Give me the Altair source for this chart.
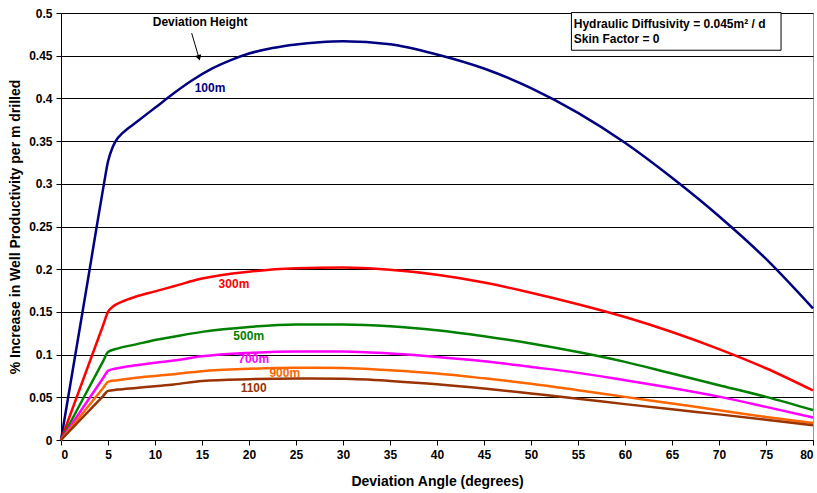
import altair as alt
import pandas as pd

FONT = "Liberation Sans"

# ---- data ----
angle_100 = [0, 2.9, 3.8, 4.6, 5, 5.5, 6, 6.5, 8, 10, 12, 14, 16, 18, 20, 22.5, 25, 27.5, 30, 35, 40, 45, 50, 55, 60, 65, 70, 75, 80]
pct_100 = [0, 0.19, 0.25, 0.302, 0.326, 0.343, 0.353, 0.359, 0.372, 0.389, 0.406, 0.4215, 0.4345, 0.4445, 0.4525, 0.459, 0.4632, 0.4658, 0.467, 0.4635, 0.4515, 0.435, 0.412, 0.383, 0.348, 0.307, 0.262, 0.212, 0.154]

angle_300 = [0, 4.5, 5, 5.5, 6.5, 8, 10, 12, 15, 20, 25, 30, 35, 40, 45, 50, 55, 60, 65, 70, 75, 80]
pct_300 = [0, 0.135, 0.15, 0.156, 0.162, 0.168, 0.174, 0.18, 0.189, 0.197, 0.201, 0.202, 0.1993, 0.1935, 0.1845, 0.1725, 0.159, 0.144, 0.1265, 0.1065, 0.084, 0.058]

angle_std = [0, 4.5, 5, 6, 8, 10, 12, 15, 20, 25, 30, 35, 40, 45, 50, 55, 60, 65, 70, 75, 80]
pct_500 = [0, 0.0927, 0.103, 0.107, 0.112, 0.117, 0.121, 0.1266, 0.1324, 0.1352, 0.1352, 0.1333, 0.1286, 0.1215, 0.113, 0.103, 0.0915, 0.0779, 0.0642, 0.0505, 0.035]
pct_700 = [0, 0.0729, 0.081, 0.084, 0.0875, 0.0905, 0.093, 0.098, 0.102, 0.1036, 0.1036, 0.1013, 0.0973, 0.0923, 0.0856, 0.0786, 0.070, 0.061, 0.0508, 0.0388, 0.0263]
pct_900 = [0, 0.0612, 0.068, 0.070, 0.073, 0.075, 0.077, 0.0806, 0.0833, 0.0845, 0.0843, 0.0817, 0.0779, 0.0722, 0.0658, 0.0583, 0.0505, 0.0427, 0.0349, 0.027, 0.020]
pct_1100 = [0, 0.0518, 0.0575, 0.059, 0.061, 0.063, 0.065, 0.0692, 0.0712, 0.072, 0.0716, 0.0692, 0.0653, 0.0603, 0.0544, 0.0484, 0.042, 0.0359, 0.0300, 0.0238, 0.0173]

series_names = ["100m", "300m", "500m", "700m", "900m", "1100"]
series_colors = ["#000080", "#FF0000", "#008000", "#FF00FF", "#FF6600", "#993300"]

label_angle = [15.85, 18.4, 19.97, 20.5, 23.8, 20.5]
label_pct = [0.4123, 0.1823, 0.1215, 0.0946, 0.0782, 0.0611]

y_ticks = [0, 0.05, 0.1, 0.15, 0.2, 0.25, 0.3, 0.35, 0.4, 0.45, 0.5]
x_ticks = list(range(0, 85, 5))

# ---- build tables ----
rows = []
for name, xs, ys in [
    ("100m", angle_100, pct_100),
    ("300m", angle_300, pct_300),
    ("500m", angle_std, pct_500),
    ("700m", angle_std, pct_700),
    ("900m", angle_std, pct_900),
    ("1100", angle_std, pct_1100),
]:
    for a, p in zip(xs, ys):
        rows.append({"series": name, "angle": a, "pct": p})
df = pd.DataFrame(rows)

labels_df = pd.DataFrame({"series": series_names, "angle": label_angle, "pct": label_pct})

xscale = alt.Scale(domain=[0, 80], nice=False, zero=False)
yscale = alt.Scale(domain=[0, 0.5], nice=False)
cscale = alt.Scale(domain=series_names, range=series_colors)

base_x = alt.X("angle:Q", scale=xscale,
               axis=alt.Axis(values=x_ticks, title="Deviation Angle (degrees)", grid=False,
                             labelFont=FONT, labelFontWeight="bold", labelFontSize=12,
                             labelColor="#000", labelPadding=4, tickSize=5, tickColor="#000",
                             domainColor="#000", titleFont=FONT, titleFontWeight="bold",
                             titleFontSize=14, titleColor="#000", titlePadding=14))
base_y = alt.Y("pct:Q", scale=yscale,
               axis=alt.Axis(values=y_ticks, format="~g", title="% Increase in Well Productivity per m drilled",
                             grid=True, gridColor="#000", gridWidth=1,
                             labelFont=FONT, labelFontWeight="bold", labelFontSize=12,
                             labelColor="#000", labelPadding=4, tickSize=5, tickColor="#000",
                             domainColor="#000", titleFont=FONT, titleFontWeight="bold",
                             titleFontSize=14, titleColor="#000", titlePadding=6))

lines = alt.Chart(df).mark_line(strokeWidth=2.5, interpolate="monotone").encode(
    x=base_x, y=base_y,
    color=alt.Color("series:N", scale=cscale, legend=None),
    detail="series:N",
)

labels = alt.Chart(labels_df).mark_text(font=FONT, fontWeight="bold", fontSize=12, align="center", baseline="middle").encode(
    x=alt.X("angle:Q", scale=xscale),
    y=alt.Y("pct:Q", scale=yscale),
    text="series:N",
    color=alt.Color("series:N", scale=cscale, legend=None),
)

# annotation "Deviation Height" with arrow
note_df = pd.DataFrame({"angle": [14.8], "pct": [0.489], "text": ["Deviation Height"]})
note = alt.Chart(note_df).mark_text(font=FONT, fontWeight="bold", fontSize=12, color="#000").encode(
    x=alt.X("angle:Q", scale=xscale), y=alt.Y("pct:Q", scale=yscale), text="text:N")

arrow_df = pd.DataFrame({"a1": [13.9], "p1": [0.4764], "a2": [14.62], "p2": [0.4495]})
arrow_line = alt.Chart(arrow_df).mark_rule(color="#000", strokeWidth=1).encode(
    x=alt.X("a1:Q", scale=xscale), y=alt.Y("p1:Q", scale=yscale),
    x2="a2:Q", y2="p2:Q")
head_df = pd.DataFrame({"angle": [14.68], "pct": [0.4475]})
arrow_head = alt.Chart(head_df).mark_point(shape="triangle-down", filled=True, color="#000", size=40, angle=344, opacity=1).encode(
    x=alt.X("angle:Q", scale=xscale), y=alt.Y("pct:Q", scale=yscale))

# info box
box_df = pd.DataFrame({"a1": [54.3], "a2": [76.6], "p1": [0.4564], "p2": [0.5005]})
box = alt.Chart(box_df).mark_rect(fill="white", stroke="#000", strokeWidth=1).encode(
    x=alt.X("a1:Q", scale=xscale), x2="a2:Q",
    y=alt.Y("p1:Q", scale=yscale), y2="p2:Q")
info_df = pd.DataFrame({"angle": [54.55, 54.55], "pct": [0.4877, 0.469],
                        "text": ["Hydraulic Diffusivity = 0.045m² / d", "Skin Factor = 0"]})
info = alt.Chart(info_df).mark_text(font=FONT, fontWeight="bold", fontSize=12, color="#000", align="left", baseline="middle").encode(
    x=alt.X("angle:Q", scale=xscale), y=alt.Y("pct:Q", scale=yscale), text="text:N")

chart = alt.layer(lines, labels, note, arrow_line, arrow_head, box, info).properties(
    width=752, height=427,
    autosize=alt.AutoSizeParams(type="none"),
    padding={"left": 61, "top": 13, "right": 4, "bottom": 53},
    background="white",
).configure_view(stroke="#999", strokeWidth=1)

chart.save("out.html", embed_options={"renderer": "svg", "actions": False})
